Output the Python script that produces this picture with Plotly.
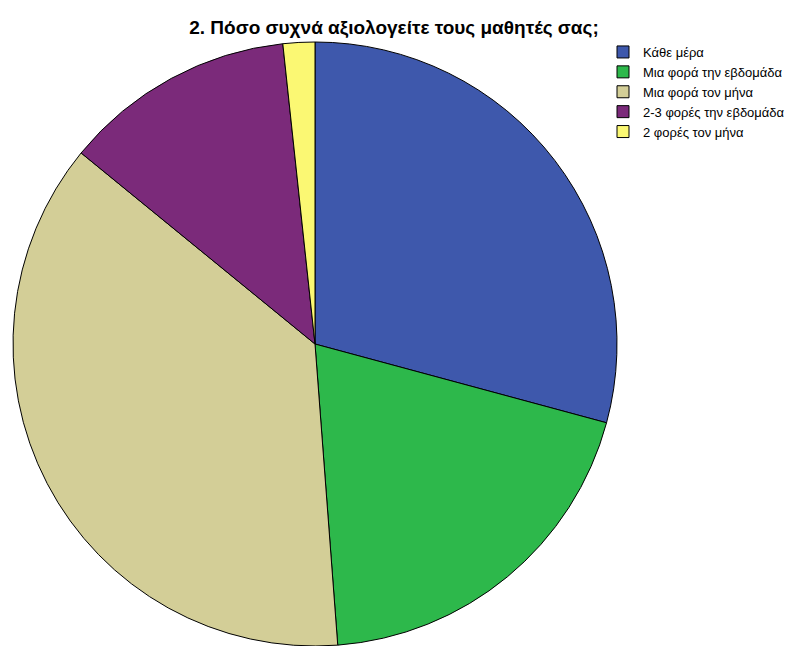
import plotly.graph_objects as go

# Answer categories and their share of responses (%)
categories = [
    "Κάθε μέρα",
    "Μια φορά την εβδομάδα",
    "Μια φορά τον μήνα",
    "2-3 φορές την εβδομάδα",
    "2 φορές τον μήνα",
]
shares = [29.2, 19.6, 37.1, 12.4, 1.7]
colors = ["#3E58AC", "#2DB84B", "#D3CE97", "#7B2A7A", "#FBF873"]

W, H = 797, 646
cx, cy, r = 315, 344, 302  # pie centre and radius in pixels

fig = go.Figure(
    go.Pie(
        labels=categories,
        values=shares,
        sort=False,
        direction="clockwise",
        rotation=0,
        textinfo="none",
        hoverinfo="label+percent",
        marker=dict(colors=colors, line=dict(color="#000000", width=1)),
        domain=dict(
            x=[(cx - r) / W, (cx + r) / W],
            y=[(H - cy - r) / H, (H - cy + r) / H],
        ),
    )
)

fig.update_layout(
    width=W,
    height=H,
    margin=dict(l=0, r=0, t=0, b=0),
    paper_bgcolor="white",
    plot_bgcolor="white",
    title=dict(
        text="<b>2. Πόσο συχνά αξιολογείτε τους μαθητές σας;</b>",
        x=394 / W,
        xanchor="center",
        y=1 - 27 / H,
        yanchor="middle",
        font=dict(family="Liberation Sans, Arial", size=19, color="#000000"),
    ),
    legend=dict(
        x=603 / W,
        xanchor="left",
        y=1 - 37 / H,
        yanchor="top",
        font=dict(family="Liberation Sans, Arial", size=13, color="#000000"),
        itemwidth=30,
        tracegroupgap=0,
        bgcolor="rgba(0,0,0,0)",
    ),
)

fig.write_html("out.html")
